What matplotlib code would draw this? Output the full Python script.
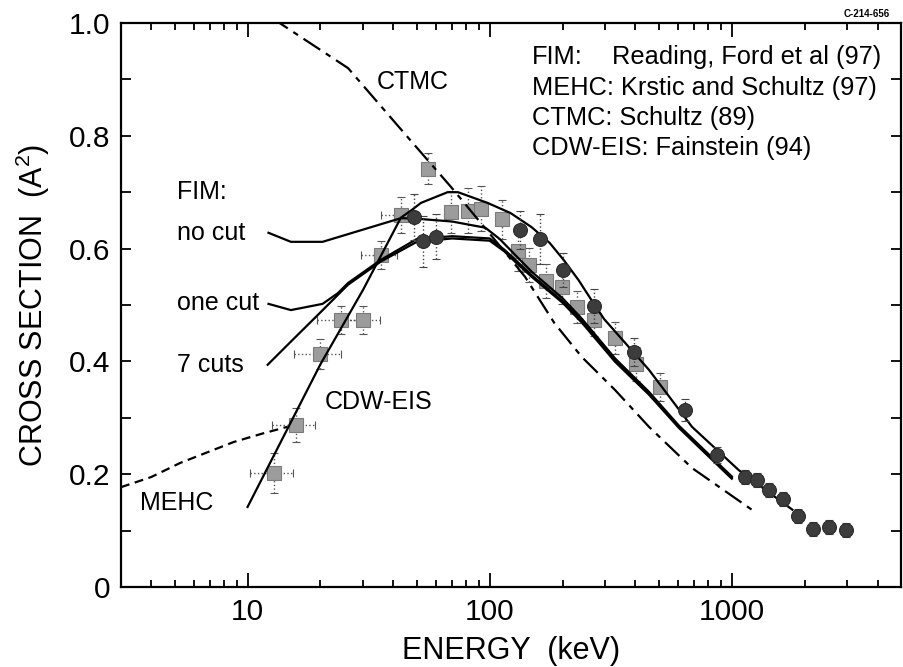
import numpy as np
import matplotlib
matplotlib.use("Agg")
import matplotlib.pyplot as plt
from matplotlib.ticker import FixedLocator, FixedFormatter, NullFormatter

plt.rcParams['font.family'] = ['Liberation Sans', 'DejaVu Sans']
plt.rcParams['mathtext.fontset'] = 'custom'
plt.rcParams['mathtext.rm'] = 'Liberation Sans'

# data points (energy in keV, cross section in A^2)
sq_E = [12.8, 15.8, 19.9, 24.2, 29.9, 35.5, 43, 55.5, 69, 81, 92, 112, 131, 145,
        171, 199, 230, 270, 330, 402, 505]
sq_y = [0.202, 0.287, 0.413, 0.473, 0.473, 0.589, 0.66, 0.742, 0.665, 0.667, 0.671,
        0.652, 0.595, 0.571, 0.543, 0.532, 0.496, 0.473, 0.442, 0.396, 0.355]
sq_yerr = [0.036, 0.03, 0.027, 0.025, 0.025, 0.025, 0.032, 0.027, 0.038, 0.04, 0.04,
           0.035, 0.035, 0.03, 0.03, 0.03, 0.028, 0.028, 0.028, 0.03, 0.025]
sq_xerr_frac = [0.2, 0.2, 0.22, 0.2, 0.18, 0.17, 0.17, 0.0, 0.0, 0.0, 0.0,
                0.0, 0.0, 0.0, 0.0, 0.0, 0.0, 0.0, 0.0, 0.0, 0.0]

ci_E = [48.5, 53, 60, 133, 162, 201, 270, 396, 642, 866, 1130, 1270, 1430, 1620,
        1870, 2160, 2520, 2960]
ci_y = [0.656, 0.613, 0.621, 0.633, 0.617, 0.562, 0.498, 0.417, 0.314, 0.234, 0.195,
        0.19, 0.172, 0.156, 0.126, 0.103, 0.106, 0.101]
ci_yerr = [0.04, 0.045, 0.04, 0.033, 0.045, 0.03, 0.03, 0.025, 0.02, 0.015, 0.012,
           0.012, 0.012, 0.012, 0.012, 0.012, 0.012, 0.012]

# theory curves
cdw_E = [10, 20, 30, 43, 47.5, 52, 67, 74, 98, 122, 149, 177, 202, 233, 263, 297,
         455, 685, 1070, 1780]
cdw_y = [0.142, 0.395, 0.527, 0.655, 0.668, 0.681, 0.70, 0.70, 0.681, 0.663, 0.638,
         0.61, 0.58, 0.544, 0.509, 0.475, 0.385, 0.284, 0.207, 0.137]

nocut_E = [12.2, 15.1, 20.4, 43, 50, 70, 96, 110, 130, 150, 200, 240, 330, 455, 605, 1000]
nocut_y = [0.628, 0.612, 0.612, 0.654, 0.653, 0.648, 0.637, 0.617, 0.585, 0.558,
           0.512, 0.476, 0.405, 0.346, 0.286, 0.196]

onecut_E = [12.2, 15.1, 20.4, 23.6, 26, 35.5, 50, 70, 100, 115, 130, 150, 200, 240,
            330, 455, 605, 1000]
onecut_y = [0.502, 0.491, 0.502, 0.521, 0.539, 0.58, 0.617, 0.622, 0.618, 0.598,
            0.577, 0.552, 0.507, 0.472, 0.401, 0.343, 0.284, 0.194]

cuts7_E = [12.1, 15.5, 20, 26, 35.5, 50, 70, 100, 115, 130, 150, 200, 240, 330, 455,
           605, 1000]
cuts7_y = [0.394, 0.44, 0.487, 0.536, 0.577, 0.612, 0.618, 0.614, 0.595, 0.573, 0.549,
           0.504, 0.469, 0.399, 0.341, 0.282, 0.192]

ctmc_E = [12.5, 26, 47.5, 69, 115, 140, 185, 240, 330, 455, 685, 1210]
ctmc_y = [1.01, 0.92, 0.79, 0.71, 0.595, 0.55, 0.468, 0.408, 0.349, 0.284, 0.211, 0.137]

mehc_E = [3, 4, 5.27, 8.75, 11.5, 14.6]
mehc_y = [0.177, 0.195, 0.22, 0.257, 0.272, 0.284]

fig = plt.figure(figsize=(9.04, 6.67), dpi=100)
ax = fig.add_axes([121 / 904, 1 - 587 / 667, 780 / 904, 564 / 667])
ax.set_xscale('log')
ax.set_xlim(3, 5000)
ax.set_ylim(0, 1.0)

lw = 1.6
ax.plot(cdw_E, cdw_y, color='black', lw=lw, zorder=4)
ax.plot(nocut_E, nocut_y, color='black', lw=lw, zorder=4)
ax.plot(onecut_E, onecut_y, color='black', lw=lw, zorder=4)
ax.plot(cuts7_E, cuts7_y, color='black', lw=lw, zorder=4)
ax.plot(ctmc_E, ctmc_y, color='black', lw=lw, dashes=(9, 3, 2.5, 3), zorder=4)
ax.plot(mehc_E, mehc_y, color='black', lw=lw, dashes=(4, 2.5), zorder=4)

# experimental points
sq_E = np.array(sq_E)
xe = np.array(sq_xerr_frac) * sq_E
eb = ax.errorbar(sq_E, sq_y, yerr=sq_yerr, xerr=[xe, xe], fmt='s', ms=10.5,
                 mfc='#9c9c9c', mec='#7a7a7a', mew=0.8, ecolor='#555555',
                 elinewidth=1.0, capsize=3, capthick=1.0, zorder=3)
for c in eb[2]:
    c.set_linestyle(':')

eb2 = ax.errorbar(ci_E, ci_y, yerr=ci_yerr, fmt='o', ms=10,
                  mfc='#3c3c3c', mec='#2a2a2a', mew=0.8, ecolor='#444444',
                  elinewidth=1.0, capsize=3, capthick=1.0, zorder=5)
for c in eb2[2]:
    c.set_linestyle(':')

# axes styling
for s in ax.spines.values():
    s.set_linewidth(1.6)
ax.xaxis.set_major_locator(FixedLocator([10, 100, 1000]))
ax.xaxis.set_major_formatter(FixedFormatter(['10', '100', '1000']))
minors = [m * d for d in (1, 10, 100, 1000) for m in range(2, 10)]
ax.xaxis.set_minor_locator(FixedLocator([v for v in minors if 3 <= v <= 5000]))
ax.xaxis.set_minor_formatter(NullFormatter())
ax.yaxis.set_major_locator(FixedLocator([0, 0.2, 0.4, 0.6, 0.8, 1.0]))
ax.yaxis.set_major_formatter(FixedFormatter(['0', '0.2', '0.4', '0.6', '0.8', '1.0']))
ax.yaxis.set_minor_locator(FixedLocator([0.1, 0.3, 0.5, 0.7, 0.9]))
ax.tick_params(which='both', direction='in', top=True, right=True, width=1.3)
ax.tick_params(axis='x', which='major', length=10, labelsize=21.5, pad=8)
ax.tick_params(axis='x', which='minor', length=5)
ax.tick_params(axis='y', which='both', length=7.5, labelsize=21.5, pad=8)

ax.set_xlabel('ENERGY  (keV)', fontsize=22, labelpad=7)
ax.set_ylabel(r'CROSS SECTION  (A$^{2}$)', fontsize=22, labelpad=12)

# annotations
tfs = 18
ax.text(377, 667 - 82, 'CTMC', fontsize=tfs, transform=None, va='center')
txt = [('FIM:', 192), ('no cut', 233), ('one cut', 303), ('7 cuts', 365)]
for s, py in txt:
    ax.text(177, 667 - py, s, fontsize=tfs, transform=None, va='center')
ax.text(325, 667 - 402, 'CDW-EIS', fontsize=tfs, transform=None, va='center')
ax.text(140, 667 - 503, 'MEHC', fontsize=tfs, transform=None, va='center')

refs = [('FIM:', 'Reading, Ford et al (97)', 57),
        ('MEHC:', 'Krstic and Schultz (97)', 88),
        ('CTMC:', 'Schultz (89)', 118),
        ('CDW-EIS:', 'Fainstein (94)', 148)]
for k, (a, b, py) in enumerate(refs):
    if k == 0:
        fig.text(532 / 904, 1 - py / 667, a, fontsize=18.3, va='center')
        fig.text(612 / 904, 1 - py / 667, b, fontsize=18.3, va='center')
    else:
        fig.text(532 / 904, 1 - py / 667, a + ' ' + b, fontsize=18.3, va='center')

fig.text(844 / 904, 1 - 14 / 667, 'C-214-656', fontsize=7, fontweight='bold', va='center')

fig.savefig('out.png', dpi=100)
